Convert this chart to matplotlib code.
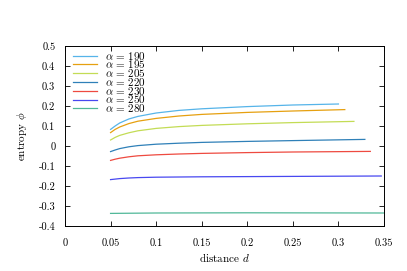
import numpy as np
import matplotlib
matplotlib.use("Agg")
import matplotlib.pyplot as plt

# === Data (distance d, entropy phi) ===
d_190 = [0.05, 0.055, 0.06, 0.07, 0.08, 0.10, 0.125, 0.15, 0.20, 0.25, 0.300]
phi_190 = [0.083, 0.100, 0.115, 0.135, 0.148, 0.165, 0.178, 0.186, 0.197, 0.205, 0.210]

d_195 = [0.05, 0.055, 0.06, 0.07, 0.08, 0.10, 0.125, 0.15, 0.20, 0.25, 0.307]
phi_195 = [0.067, 0.083, 0.095, 0.112, 0.124, 0.138, 0.150, 0.158, 0.168, 0.175, 0.182]

d_205 = [0.05, 0.055, 0.06, 0.07, 0.08, 0.10, 0.125, 0.15, 0.20, 0.25, 0.317]
phi_205 = [0.030, 0.043, 0.053, 0.066, 0.076, 0.088, 0.097, 0.103, 0.111, 0.117, 0.123]

d_220 = [0.05, 0.055, 0.06, 0.07, 0.08, 0.10, 0.125, 0.15, 0.20, 0.25, 0.329]
phi_220 = [-0.028, -0.020, -0.013, -0.004, 0.002, 0.009, 0.014, 0.018, 0.023, 0.027, 0.033]

d_230 = [0.05, 0.055, 0.06, 0.07, 0.08, 0.10, 0.125, 0.15, 0.20, 0.25, 0.335]
phi_230 = [-0.072, -0.066, -0.061, -0.054, -0.049, -0.044, -0.040, -0.037, -0.033, -0.030, -0.027]

d_250 = [0.05, 0.06, 0.07, 0.08, 0.10, 0.15, 0.20, 0.25, 0.347]
phi_250 = [-0.168, -0.163, -0.160, -0.158, -0.156, -0.154, -0.153, -0.152, -0.150]

d_280 = [0.05, 0.10, 0.20, 0.35]
phi_280 = [-0.337, -0.335, -0.334, -0.335]

alphas = [190, 195, 205, 220, 230, 250, 280]
curves = [(d_190, phi_190), (d_195, phi_195), (d_205, phi_205), (d_220, phi_220),
          (d_230, phi_230), (d_250, phi_250), (d_280, phi_280)]
colors = ["#56b4e9", "#e6a010", "#c3dc55", "#2f80b8", "#ee4a40", "#4848f0", "#50b898"]

x_ticks = [0, 0.05, 0.1, 0.15, 0.2, 0.25, 0.3, 0.35]
x_labels = ["0", "0.05", "0.1", "0.15", "0.2", "0.25", "0.3", "0.35"]
y_ticks = [-0.4, -0.3, -0.2, -0.1, 0, 0.1, 0.2, 0.3, 0.4, 0.5]
y_labels = ["-0.4", "-0.3", "-0.2", "-0.1", "0", "0.1", "0.2", "0.3", "0.4", "0.5"]

# === Style (gnuplot / LaTeX look) ===
plt.rcParams["font.family"] = "cmr10"
plt.rcParams["mathtext.fontset"] = "cm"
plt.rcParams["axes.unicode_minus"] = False

fig = plt.figure(figsize=(4.07, 2.71), dpi=100)
ax = fig.add_axes([65 / 407, 1 - 226 / 271, (384 - 65) / 407, (226 - 46) / 271])

for a, (d, phi), c in zip(alphas, curves, colors):
    ax.plot(d, phi, color=c, lw=0.9, label=rf"$\alpha\,=\,{a}$")

ax.set_xlim(0, 0.35)
ax.set_ylim(-0.4, 0.5)
ax.set_xticks(x_ticks)
ax.set_xticklabels(x_labels)
ax.set_yticks(y_ticks)
ax.set_yticklabels(y_labels)
ax.tick_params(direction="in", length=3.5, width=0.6, top=True, right=True,
               labelsize=7.5)
ax.tick_params(axis="x", pad=9)
ax.tick_params(axis="y", pad=7)
for s in ax.spines.values():
    s.set_linewidth(0.7)

ax.set_xlabel(r"distance $d$", fontsize=8, labelpad=2)
ax.set_ylabel(r"entropy $\phi$", fontsize=8, labelpad=7)

leg = ax.legend(loc="upper left", fontsize=8, frameon=False, labelspacing=-0.29,
                handlelength=2.2, handletextpad=0.7, borderaxespad=0.0,
                borderpad=0.0, bbox_to_anchor=(0.025, 0.98))

fig.savefig("out.png", dpi=100)
